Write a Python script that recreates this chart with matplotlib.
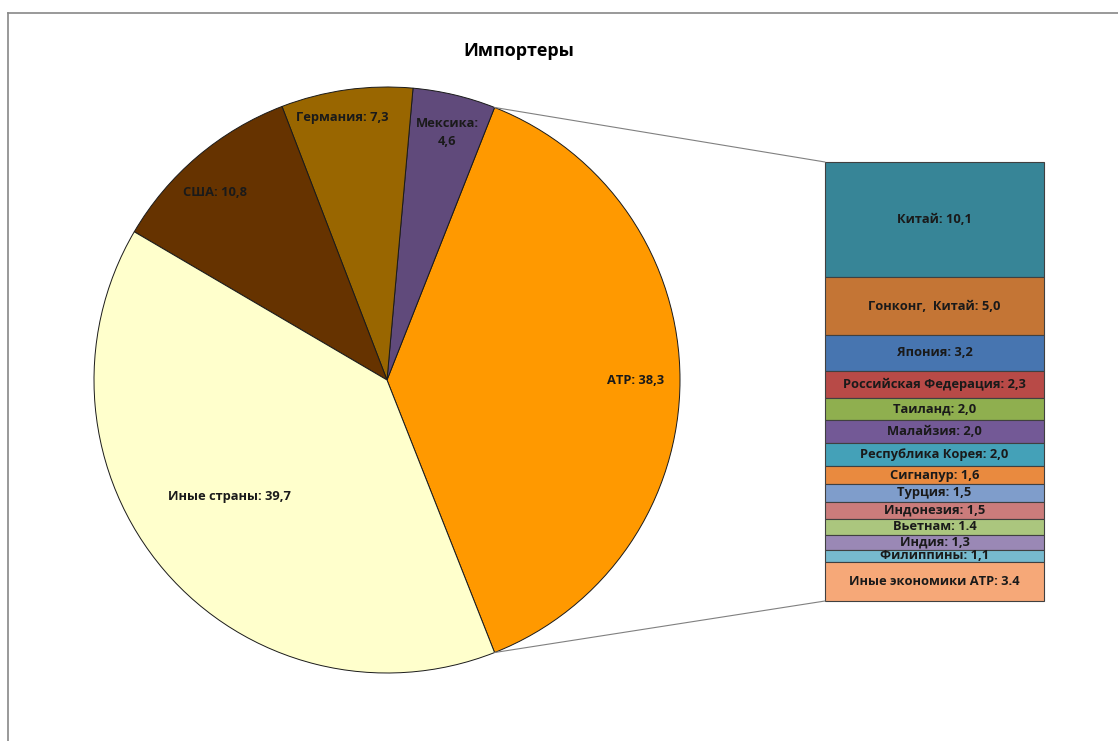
import matplotlib.pyplot as plt
from matplotlib.patches import ConnectionPatch
from matplotlib.lines import Line2D
import numpy as np

plt.rcParams['font.family'] = ['Open Sans', 'DejaVu Sans']

# main pie (order: counterclockwise starting with АТР)
pie_labels = ["АТР", "Мексика", "Германия", "США", "Иные страны"]
pie_values = [38.3, 4.6, 7.3, 10.8, 39.7]
pie_texts = ["АТР: 38,3", "Мексика:\n4,6", "Германия: 7,3", "США: 10,8", "Иные страны: 39,7"]
pie_colors = ["#FF9900", "#604A7B", "#996600", "#663300", "#FFFFCC"]

# breakdown of АТР (top to bottom)
bar_labels = ["Китай", "Гонконг, Китай", "Япония", "Российская Федерация", "Таиланд",
              "Малайзия", "Республика Корея", "Сигнапур", "Турция", "Индонезия",
              "Вьетнам", "Индия", "Филиппины", "Иные экономики АТР"]
bar_values = [10.1, 5.0, 3.2, 2.3, 2.0, 2.0, 2.0, 1.6, 1.5, 1.5, 1.4, 1.3, 1.1, 3.4]
bar_texts = ["Китай: 10,1", "Гонконг,  Китай: 5,0", "Япония: 3,2", "Российская Федерация: 2,3",
             "Таиланд: 2,0", "Малайзия: 2,0", "Республика Корея: 2,0", "Сигнапур: 1,6",
             "Турция: 1,5", "Индонезия: 1,5", "Вьетнам: 1.4", "Индия: 1,3",
             "Филиппины: 1,1", "Иные экономики АТР: 3.4"]
bar_colors = ["#378597", "#C47535", "#4775B0", "#B84A47", "#8FAF4F", "#735996",
              "#44A1B8", "#E98A3F", "#7F9DCB", "#CB7C7B", "#ABC67E", "#9A88B5",
              "#77BACE", "#F6A878"]

W, H = 1118, 741
fig = plt.figure(figsize=(W / 100, H / 100), dpi=100)

# outer chart frame (cropped at right and bottom)
fig.add_artist(Line2D([8 / W, 8 / W], [1 - 13 / H, 0], transform=fig.transFigure,
                      color="#888888", lw=1.2))
fig.add_artist(Line2D([8 / W, 1], [1 - 13 / H, 1 - 13 / H], transform=fig.transFigure,
                      color="#888888", lw=1.2))

fig.text(519 / W, 1 - 51 / H, "Импортеры", ha="center", va="center",
         fontsize=13, fontweight="bold")

# pie axes
cx, cy, r = 387, 380, 293
ax1 = fig.add_axes([(cx - r) / W, (H - cy - r) / H, 2 * r / W, 2 * r / H])
frac0 = pie_values[0] / sum(pie_values)
wedges, _ = ax1.pie(pie_values, colors=pie_colors, startangle=-frac0 * 180,
                    counterclock=True, radius=1,
                    wedgeprops=dict(edgecolor="#1a1a1a", linewidth=0.7))
ax1.set_xlim(-1, 1)
ax1.set_ylim(-1, 1)
ax1.axis("off")

label_r = [0.85, 0.87, 0.91, 0.87, 0.67]
label_da = [0, -0.3, 1.7, 2.2, -4]
for w, t, lr, da in zip(wedges, pie_texts, label_r, label_da):
    ang = np.deg2rad((w.theta1 + w.theta2) / 2 + da)
    ax1.text(lr * np.cos(ang), lr * np.sin(ang), t, ha="center", va="center",
             fontsize=9.3, fontweight="bold", color="#1a1a1a", linespacing=1.45)

# bar of pie axes
ax2 = fig.add_axes([825 / W, (H - 601) / H, 219 / W, 439 / H])
bottom = 0
for v, c, t in zip(bar_values, bar_colors, bar_texts):
    ax2.bar(0, v, width=1, bottom=bottom, color=c, edgecolor="#404040",
            linewidth=0.8, clip_on=False)
    ax2.text(0, bottom + v / 2, t, ha="center", va="center", fontsize=9.3,
             fontweight="bold", color="#1a1a1a")
    bottom += v
ax2.set_xlim(-0.5, 0.5)
ax2.set_ylim(bottom, 0)
ax2.axis("off")

# connector lines from АТР wedge edges to the bar
w0 = wedges[0]
for theta, yb in [(w0.theta2, 0), (w0.theta1, bottom)]:
    a = np.deg2rad(theta)
    con = ConnectionPatch(xyA=(np.cos(a), np.sin(a)), coordsA=ax1.transData,
                          xyB=(-0.5, yb), coordsB=ax2.transData,
                          color="#808080", lw=0.8)
    fig.add_artist(con)

fig.savefig("out.png", dpi=100)
